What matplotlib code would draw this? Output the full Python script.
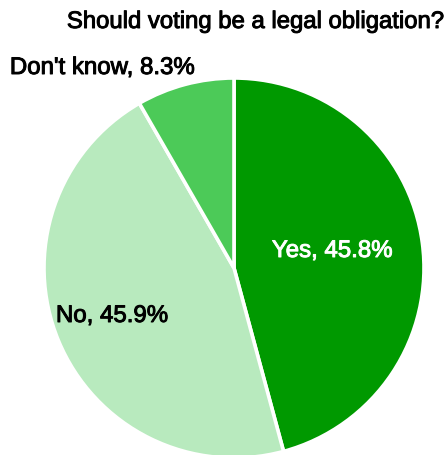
import matplotlib
matplotlib.use("Agg")
import matplotlib.pyplot as plt
import matplotlib.patheffects as pe

# Survey answers
answers = ["Yes", "No", "Don't know"]
shares = [45.8, 45.9, 8.3]
colors = ["#009900", "#b8eabe", "#4cca58"]

W, H = 446, 455
DPI = 100
plt.rcParams["font.family"] = ["Liberation Sans", "DejaVu Sans"]

fig = plt.figure(figsize=(W / DPI, H / DPI), dpi=DPI)
ax = fig.add_axes([0, 0, 1, 1])

cx, cy, r = 234, H - 268, 190
ax.pie(shares, colors=colors, startangle=90, counterclock=False,
       center=(cx, cy), radius=r, frame=True,
       wedgeprops=dict(edgecolor="white", linewidth=2.6))
ax.set_xlim(0, W)
ax.set_ylim(0, H)
ax.set_aspect("equal")
ax.axis("off")


def heavy(color):
    return [pe.withStroke(linewidth=0.7, foreground=color)]


labels = [f"{a}, {s}%" for a, s in zip(answers, shares)]
fs = 17.3
ax.text(332, H - 251, labels[0], color="white", fontsize=fs,
        ha="center", va="center", path_effects=heavy("white"))
ax.text(112, H - 316, labels[1], color="black", fontsize=fs,
        ha="center", va="center", path_effects=heavy("black"))
ax.text(102, H - 68, labels[2], color="black", fontsize=fs,
        ha="center", va="center", path_effects=heavy("black"))

fig.text(444 / W, 1 - 22 / H, "Should voting be a legal obligation?",
         fontsize=17.2, ha="right", va="center", color="black",
         path_effects=heavy("black"))

fig.savefig("out.png", dpi=DPI)
